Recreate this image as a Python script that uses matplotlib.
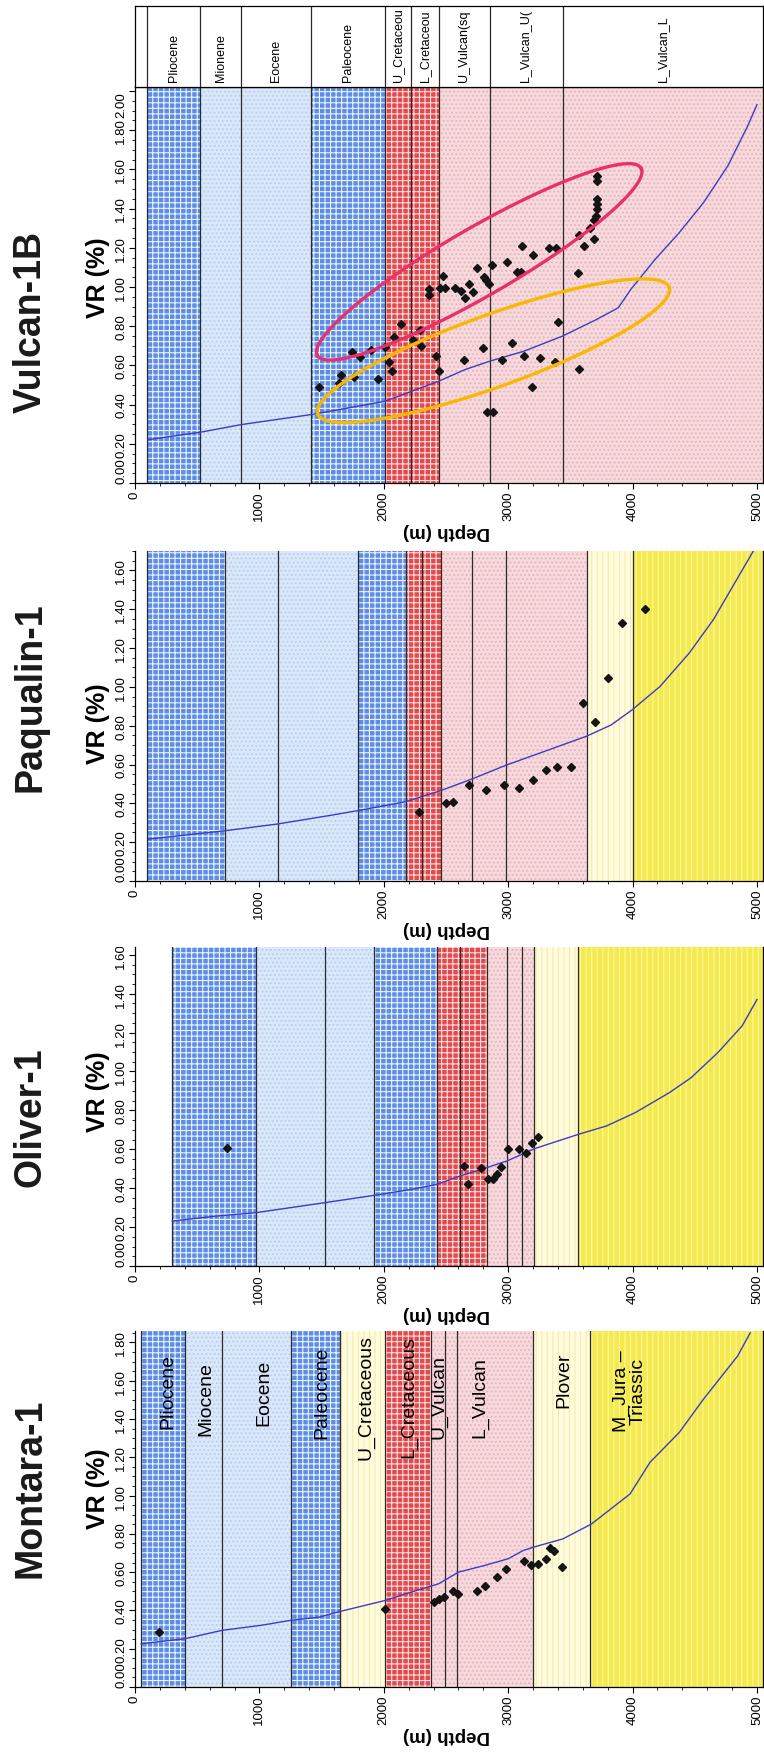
import numpy as np
import matplotlib
matplotlib.use("Agg")
import matplotlib.pyplot as plt
from matplotlib.patches import Rectangle
from matplotlib.ticker import MultipleLocator
from matplotlib.transforms import Bbox, TransformedBbox

plt.rcParams["font.family"] = ["Liberation Sans", "DejaVu Sans"]
plt.rcParams["hatch.linewidth"] = 0.8
NARROW = ["Liberation Sans Narrow", "Liberation Sans", "DejaVu Sans"]

# ---------------- data: depth (m) vs vitrinite reflectance VR (%) ----------------
# Vulcan-1B
vul_tops = [100, 520, 855, 1415, 2010, 2220, 2440, 2850, 3440]
vul_kind = ["db", "lb", "lb", "db", "rd", "rd", "pk", "pk", "pk"]
vul_head = ["Pliocene", "Mionene", "Eocene", "Paleocene", "U_Cretaceou", "L_Cretaceou",
            "U_Vulcan(sq", "L_Vulcan_U(", "L_Vulcan_L"]
vul_curve_d = [105, 525, 855, 1415, 1715, 2010, 2225, 2440, 2655, 2850, 3125, 3435, 3710,
               3885, 3985, 4180, 4375, 4570, 4765, 4925, 5000]
vul_curve_vr = [0.221, 0.259, 0.298, 0.349, 0.383, 0.417, 0.468, 0.519, 0.579, 0.621, 0.672,
                0.749, 0.834, 0.894, 0.987, 1.140, 1.277, 1.430, 1.617, 1.821, 1.93]
vul_pts_d = [1483, 1636, 1655, 1748, 1761, 1809, 1894, 1955, 2008, 2040, 2066, 2079, 2140,
             2233, 2291, 2299, 2366, 2366, 2419, 2443, 2472, 2450, 2490, 2575, 2623, 2644,
             2649, 2684, 2716, 2748, 2801, 2808, 2822, 2827, 2875, 2848, 2870, 2949, 2994,
             3034, 3074, 3100, 3114, 3127, 3193, 3201, 3254, 3326, 3387, 3373, 3400, 3559,
             3570, 3572, 3609, 3657, 3691, 3691, 3702, 3710, 3710, 3710, 3710, 3710]
vul_pts_vr = [0.488, 0.509, 0.551, 0.670, 0.542, 0.641, 0.680, 0.531, 0.692, 0.616, 0.573,
              0.743, 0.811, 0.731, 0.781, 0.700, 0.961, 0.990, 0.650, 0.570, 1.058, 0.995,
              0.995, 0.995, 0.981, 0.628, 0.942, 1.015, 0.973, 1.095, 0.689, 1.049, 1.036,
              0.361, 0.361, 1.015, 1.114, 0.629, 1.126, 0.713, 1.078, 1.078, 1.208, 0.650,
              0.488, 1.165, 0.636, 1.199, 1.199, 0.619, 0.820, 1.071, 1.265, 0.582, 1.208,
              1.301, 1.245, 1.343, 1.364, 1.398, 1.423, 1.449, 1.542, 1.565]
# highlighted trends (depth, VR) at both ends of each ellipse
pink_ends = [(1466, 0.650), (4068, 1.606)]
gold_ends = [(1469, 0.352), (4294, 0.998)]

# Paqualin-1
paq_tops = [100, 720, 1150, 1790, 2180, 2310, 2460, 2710, 2980, 3630, 4000]
paq_kind = ["db", "lb", "lb", "db", "rd", "rd", "pk", "pk", "pk", "py", "yl"]
paq_curve_d = [110, 725, 1150, 1560, 1795, 2180, 2460, 2715, 2980, 3280, 3630, 3825, 3995,
               4220, 4455, 4650, 4885, 4980]
paq_curve_vr = [0.216, 0.259, 0.294, 0.337, 0.363, 0.409, 0.466, 0.527, 0.596, 0.665, 0.746,
                0.803, 0.881, 1.002, 1.174, 1.347, 1.606, 1.71]
paq_pts_d = [2285, 2500, 2555, 2685, 2825, 2965, 3085, 3200, 3300, 3395, 3505, 3605, 3700,
             3800, 3915, 4100]
paq_pts_vr = [0.358, 0.401, 0.406, 0.492, 0.470, 0.497, 0.480, 0.518, 0.570, 0.587, 0.587,
              0.915, 0.817, 1.045, 1.330, 1.400]

# Oliver-1
oli_tops = [300, 970, 1530, 1920, 2430, 2615, 2830, 2990, 3110, 3210, 3565]
oli_kind = ["db", "lb", "lb", "db", "rd", "rd", "pk", "pk", "pk", "py", "yl"]
oli_curve_d = [300, 660, 970, 1250, 1530, 1920, 2225, 2430, 2615, 2830, 2990, 3110, 3210,
               3565, 3790, 4020, 4295, 4470, 4685, 4880, 5000]
oli_curve_vr = [0.231, 0.257, 0.274, 0.300, 0.326, 0.363, 0.394, 0.420, 0.463, 0.506, 0.540,
                0.574, 0.603, 0.677, 0.720, 0.788, 0.891, 0.968, 1.097, 1.234, 1.37]
oli_pts_d = [740, 2645, 2680, 2780, 2840, 2880, 2910, 2945, 3000, 3085, 3145, 3195, 3240]
oli_pts_vr = [0.608, 0.514, 0.420, 0.506, 0.449, 0.449, 0.471, 0.509, 0.600, 0.600, 0.583,
              0.631, 0.665]

# Montara-1
mon_tops = [50, 400, 700, 1250, 1650, 2010, 2380, 2490, 2590, 3200, 3660]
mon_kind = ["db", "lb", "lb", "db", "py", "rd", "pk", "pk", "pk", "py", "yl"]
mon_names = ["Pliocene", "Miocene", "Eocene", "Paleocene", "U_Cretaceous", "L_Cretaceous",
             "U_Vulcan", "L_Vulcan", "Plover", "M_Jura \u2013\nTriassic"]
mon_name_d = [265, 570, 1035, 1500, 1855, 2200, 2440, 2770, 3450, 3975]
mon_name_vr = [1.55, 1.51, 1.54, 1.54, 1.52, 1.52, 1.52, 1.52, 1.61, 1.55]
mon_curve_d = [50, 400, 700, 1010, 1250, 1480, 1650, 2010, 2220, 2440, 2600, 2810, 3000,
               3120, 3200, 3440, 3670, 3980, 4140, 4375, 4570, 4845, 4945]
mon_curve_vr = [0.226, 0.252, 0.296, 0.322, 0.348, 0.365, 0.395, 0.452, 0.496, 0.539, 0.600,
                0.635, 0.670, 0.713, 0.730, 0.774, 0.852, 1.009, 1.174, 1.330, 1.504, 1.730,
                1.85]
mon_pts_d = [190, 2010, 2400, 2440, 2480, 2555, 2595, 2750, 2810, 2910, 2985, 3125, 3180,
             3240, 3300, 3340, 3365, 3430]
mon_pts_vr = [0.287, 0.409, 0.443, 0.461, 0.470, 0.504, 0.487, 0.504, 0.530, 0.577, 0.614,
              0.656, 0.635, 0.643, 0.670, 0.725, 0.713, 0.626]

# ---------------- styles ----------------
STYLE = {
    "db": dict(fc="#5d8ee6", hc="#eef3fd", hatch="+++"),
    "lb": dict(fc="#d9e7f8", hc="#b3cdf0", hatch="...."),
    "rd": dict(fc="#e34a4e", hc="#fbe0e0", hatch="+++"),
    "pk": dict(fc="#f6d9dc", hc="#e8b0b8", hatch="...."),
    "py": dict(fc="#fffbe2", hc="#f6ee9e", hatch="|||"),
    "yl": dict(fc="#f5ea4c", hc="#fbf5a8", hatch="|||"),
}
W, H = 764, 1758
X0, X5000, X1 = 135, 757, 763          # pixel columns: depth 0, depth 5000, right frame
XMAX = 5000 * (X1 - X0) / (X5000 - X0)  # plot runs a little past 5000 m


def add_ax(fig, top, bottom):
    return fig.add_axes([X0 / W, 1 - bottom / H, (X1 - X0) / W, (bottom - top) / H])


def draw_units(ax, tops, kinds, vmax):
    edges = list(tops) + [XMAX]
    for i, k in enumerate(kinds):
        st = STYLE[k]
        x0, x1 = edges[i], edges[i + 1]
        ax.add_patch(Rectangle((x0, 0), x1 - x0, vmax, facecolor=st["fc"],
                               edgecolor="none", zorder=0))
        ax.add_patch(Rectangle((x0, 0), x1 - x0, vmax, facecolor="none", edgecolor=st["hc"],
                               hatch=st["hatch"], lw=0, zorder=0.5))
    for e in edges[:-1]:
        ax.axvline(e, color="#2a2a2a", lw=0.9, zorder=1)


def setup_axes(ax, vmax, title, title_y, vr_y, top_spine=False):
    ax.set_xlim(0, XMAX)
    ax.set_ylim(0, vmax)
    xt = np.arange(0, 5001, 1000)
    ax.set_xticks(xt, [str(v) for v in xt], rotation=90, fontsize=9.5, family=NARROW)
    ax.xaxis.set_minor_locator(MultipleLocator(200))
    yt = np.arange(0, vmax + 1e-6, 0.2)
    ax.set_yticks(yt, [f"{v:.2f}" for v in yt], rotation=90, va="center", fontsize=9.5,
                  family=NARROW)
    ax.yaxis.set_minor_locator(MultipleLocator(0.05))
    ax.tick_params(which="major", length=4, width=0.8, pad=1.5, direction="out")
    ax.tick_params(which="minor", length=2, width=0.6, direction="out")
    ticks = ax.yaxis.get_major_ticks()
    ticks[0].label1.set_va("bottom")
    if vmax - yt[-1] < 0.03:
        ticks[-1].label1.set_va("top")
    # labels are cut at the top edge of the plot, as in the source figure
    clip = TransformedBbox(Bbox([[-1, -0.2], [1, 1]]), ax.transAxes)
    for t in ticks:
        t.label1.set_clip_box(clip)
        t.label1.set_clip_on(True)
    ax.spines["top"].set_visible(top_spine)
    for s in ax.spines.values():
        s.set_linewidth(0.9)
    ax.annotate("Depth (m)", xy=(2500, 0), xycoords=("data", "axes fraction"),
                xytext=(0, -48), textcoords="offset pixels", rotation=180, ha="center",
                va="center", fontsize=13.5, fontweight="bold")
    ax.annotate("VR (%)", xy=(0, vr_y), xycoords="axes fraction", xytext=(-37, 0),
                textcoords="offset pixels", rotation=90, ha="center", va="center",
                fontsize=18, fontweight="bold")
    ax.annotate(title, xy=(0, title_y), xycoords="axes fraction", xytext=(-104, 0),
                textcoords="offset pixels", rotation=90, ha="center", va="center",
                fontsize=27, fontweight="bold", color="#1a1a1a")


def draw_data(ax, cd, cvr, pd_, pvr):
    ax.plot(cd, cvr, color="#3c3cc4", lw=1.0, zorder=3)
    ax.plot(pd_, pvr, ls="none", marker="D", ms=4.4, color="#141414", zorder=5)


def ring(ax, ends, half_minor, color):
    # ellipse drawn in pixel space so it keeps its shape, then mapped back to data
    pa, pb = ax.transData.transform(ends)
    c = (pa + pb) / 2
    d = pb - pa
    a = np.hypot(*d) / 2
    u = d / (2 * a)
    v = np.array([-u[1], u[0]])
    t = np.linspace(0, 2 * np.pi, 300)
    pts = c + np.outer(a * np.cos(t), u) + np.outer(half_minor * np.sin(t), v)
    xy = ax.transData.inverted().transform(pts)
    ax.plot(xy[:, 0], xy[:, 1], color=color, lw=2.4, zorder=6)


fig = plt.figure(figsize=(W / 100, H / 100), dpi=100)

# --- Vulcan-1B with formation header ---
ax = add_ax(fig, 88, 484)
VMAX = 2.02
draw_units(ax, vul_tops, vul_kind, VMAX)
setup_axes(ax, VMAX, "Vulcan-1B", 0.41, 0.52, top_spine=True)
draw_data(ax, vul_curve_d, vul_curve_vr, vul_pts_d, vul_pts_vr)
ring(ax, pink_ends, 34, "#e8306b")
ring(ax, gold_ends, 36, "#f9b700")

hax = add_ax(fig, 7, 88)
hax.set_xlim(0, XMAX)
hax.set_ylim(0, 1)
hax.set_xticks([])
hax.set_yticks([])
for s in hax.spines.values():
    s.set_linewidth(0.9)
hedges = vul_tops + [XMAX]
for e in vul_tops:
    hax.axvline(e, color="#2a2a2a", lw=0.9)
for i, name in enumerate(vul_head):
    hax.text((hedges[i] + hedges[i + 1]) / 2, 0.07, name, rotation=90, ha="center",
             va="bottom", fontsize=9, clip_on=True)

# --- Paqualin-1 ---
ax = add_ax(fig, 552, 882)
VMAX = 1.70
draw_units(ax, paq_tops, paq_kind, VMAX)
setup_axes(ax, VMAX, "Paqualin-1", 0.56, 0.48)
draw_data(ax, paq_curve_d, paq_curve_vr, paq_pts_d, paq_pts_vr)

# --- Oliver-1 ---
ax = add_ax(fig, 948, 1267)
VMAX = 1.64
draw_units(ax, oli_tops, oli_kind, VMAX)
setup_axes(ax, VMAX, "Oliver-1", 0.47, 0.55)
draw_data(ax, oli_curve_d, oli_curve_vr, oli_pts_d, oli_pts_vr)

# --- Montara-1 ---
ax = add_ax(fig, 1332, 1688)
VMAX = 1.86
draw_units(ax, mon_tops, mon_kind, VMAX)
setup_axes(ax, VMAX, "Montara-1", 0.56, 0.56)
draw_data(ax, mon_curve_d, mon_curve_vr, mon_pts_d, mon_pts_vr)
for name, d, vr in zip(mon_names, mon_name_d, mon_name_vr):
    ax.text(d, vr, name, rotation=90, ha="center", va="center", fontsize=14,
            multialignment="center", zorder=2, linespacing=0.95)

fig.savefig("out.png", dpi=100)
